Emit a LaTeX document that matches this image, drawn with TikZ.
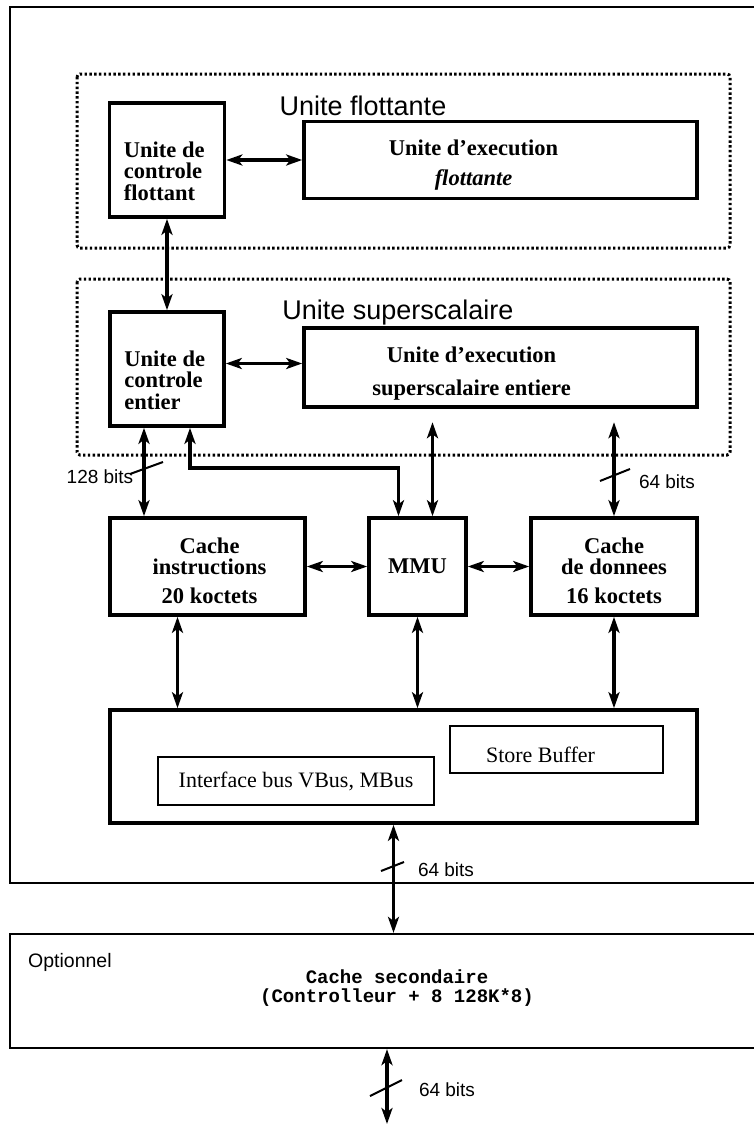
\documentclass[tikz,border=0pt]{standalone}
\usepackage{fontspec}
\setmainfont{Liberation Serif}
\setsansfont{Liberation Sans}
\setmonofont{Liberation Mono}
\usetikzlibrary{calc, arrows.meta, positioning}
\tikzstyle{bus} = [draw, line width=3.6pt, {Stealth[length=16pt,width=11pt,inset=4pt]}-{Stealth[length=16pt,width=11pt,inset=4pt]}]
\tikzstyle{box} = [draw, line width=3.6pt, inner sep=0pt]
\tikzstyle{slash} = [draw, line width=2pt]

\begin{document}
\begin{tikzpicture}
    [
        x=1pt, y=-1pt,
        lab/.style={font=\bfseries\fontsize{22.5}{21.5}\selectfont, inner sep=0pt},
        plain/.style={font=\fontsize{22}{22}\selectfont, inner sep=0pt},
        sans/.style={font=\sffamily\fontsize{19}{19}\selectfont, inner sep=0pt},
        title/.style={font=\sffamily\fontsize{27}{27}\selectfont, inner sep=0pt},
        unit/.style={draw, line width=3pt, dash pattern=on 2.4pt off 2.4pt, rounded corners=3pt},
        sbox/.style={draw, line width=2.4pt, inner sep=0pt}
    ]
    \clip (0,0) rectangle (754,1128);
    %\draw[style=dotted] (0,0) grid[step=50] (754,1128);

    % cadre processeur
    \draw[line width=1.8pt] (760,7) -| (10,883) -- (760,883);

    % unite flottante
    \draw[unit] (77,74) rectangle (730,248);
    \node[title] (uf) at (363,106) {Unite flottante};
    \node[box, minimum width=115, minimum height=114] (cf) at (167,160) {};
    \node[lab, align=left, anchor=west] (cf-t) at ([xshift=16pt,yshift=-11pt]cf.west) {Unite de\\controle\\flottant};
    \node[box, minimum width=393, minimum height=77] (ef) at (500.5,160) {};
    \node[lab, align=center] (ef-t) at ([xshift=-27pt,yshift=-5pt]ef.center) {Unite d’execution\\[9pt]\itshape flottante};

    % unite superscalaire
    \draw[unit] (77,279) rectangle (730,455);
    \node[title] (us) at (398,313) {Unite superscalaire};
    \node[box, minimum width=114, minimum height=114] (ce) at (167,369) {};
    \node[lab, align=left, anchor=west] (ce-t) at ([xshift=16pt,yshift=-11pt]ce.west) {Unite de\\controle\\entier};
    \node[box, minimum width=393, minimum height=79] (es) at (500.5,367.5) {};
    \node[lab, align=center] (es-t) at ([xshift=-29pt,yshift=-6pt]es.center) {Unite d’execution\\[11pt]superscalaire entiere};

    % caches et MMU
    \node[box, minimum width=195, minimum height=97] (ci) at (207.5,566.5) {};
    \node[lab, align=center, font=\bfseries\fontsize{22.5}{21}\selectfont] (ci-t) at ([xshift=2pt,yshift=-4pt]ci.center) {Cache\\instructions\\[8pt]20 koctets};
    \node[box, minimum width=97, minimum height=97, lab] (mmu) at (417.5,566.5) {MMU};
    \node[box, minimum width=166, minimum height=97] (cd) at (614,566.5) {};
    \node[lab, align=center, font=\bfseries\fontsize{22.5}{21}\selectfont] (cd-t) at ([yshift=-4pt]cd.center) {Cache\\de donnees\\[8pt]16 koctets};

    % interface bus
    \node[box, minimum width=587, minimum height=113] (bif) at (403.5,766.5) {};
    \node[sbox, minimum width=213, minimum height=47] (sb) at (556.5,749.5) {};
    \node[plain] (sb-t) at ([xshift=-16pt,yshift=-5pt]sb.center) {Store Buffer};
    \node[sbox, minimum width=276, minimum height=48, plain] (ib) at (296,781) {Interface bus VBus, MBus};

    % cache secondaire
    \node[draw, line width=2.2pt, minimum width=790, minimum height=114] (opt) at (405,991) {};
    \node[sans, anchor=west, font=\sffamily\fontsize{19.5}{19.5}\selectfont] (opt-t) at (28,962) {Optionnel};
    \node[font=\ttfamily\bfseries\fontsize{19}{19}\selectfont, align=center, inner sep=0pt] (cs) at (397,988) {Cache secondaire\\(Controlleur + 8 128K*8)};

    % liaisons
    \draw[bus] (cf) -- (ce);
    \draw[bus] (cf) -- (ef);
    \draw[bus] ([yshift=4pt]es.west -| ce.east) -- ([yshift=4pt]es.west);

    \coordinate (a1) at ([xshift=-23pt]ce.south);
    \draw[bus] (a1) -- (a1 |- ci.north);
    \coordinate (b1) at ([xshift=23pt]ce.south);
    \coordinate (b2) at ([xshift=-19pt]mmu.north);
    \draw[bus] (b1) |- ([yshift=48pt]b2) -- (b2);
    \coordinate (c1) at ([xshift=15pt,yshift=94pt]mmu.north);
    \draw[bus] (c1) -- (c1 |- mmu.north);
    \coordinate (d1) at ([yshift=94pt]cd.north);
    \draw[bus] (d1) -- (cd.north);

    \draw[bus] (ci) -- (mmu);
    \draw[bus] (mmu) -- (cd);
    \draw[bus] ([xshift=-30pt]ci.south) -- ([xshift=-30pt]ci.south |- bif.north);
    \draw[bus] (mmu.south) -- (mmu.south |- bif.north);
    \draw[bus] (cd.south) -- (cd.south |- bif.north);

    \coordinate (e1) at ([xshift=-10pt]bif.south);
    \draw[bus] (e1) -- (e1 |- opt.north);
    \coordinate (f1) at (387,1124);
    \draw[bus] (f1 |- opt.south) -- (f1);

    % largeurs de bus
    \draw[slash] (130,474) -- (163,462);
    \node[sans] (w128) at (100,477) {128 bits};
    \draw[slash] (600,481) -- (630,469);
    \node[sans] (w64a) at (667,482) {64 bits};
    \draw[slash] (381,871) -- (404,862);
    \node[sans] (w64b) at (446,870) {64 bits};
    \draw[slash] (370,1096) -- (402,1080);
    \node[sans] (w64c) at (447,1090) {64 bits};
\end{tikzpicture}
\end{document}
